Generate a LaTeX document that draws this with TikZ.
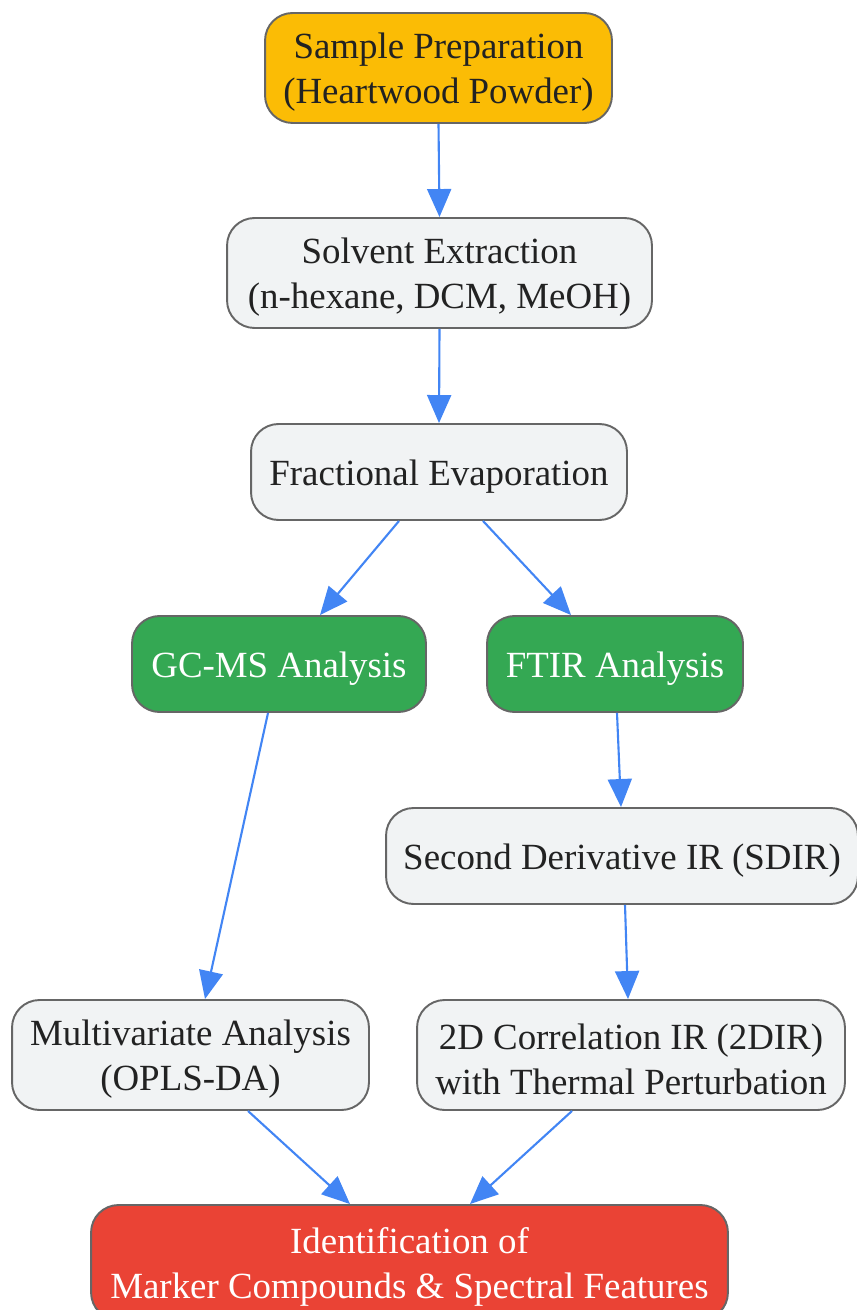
\documentclass[tikz,border=0pt]{standalone}
\usepackage{fontspec}
\setmainfont{Liberation Serif}
\usetikzlibrary{arrows.meta}

\definecolor{stepgray}{HTML}{F1F3F4}
\definecolor{stepyellow}{HTML}{FBBC05}
\definecolor{stepgreen}{HTML}{34A853}
\definecolor{stepred}{HTML}{EA4335}
\definecolor{linkblue}{HTML}{4285F4}
\definecolor{rimgray}{HTML}{666666}
\definecolor{inkgray}{HTML}{222222}

\begin{document}
\begin{tikzpicture}[x=0.02cm,y=-0.02cm,
	caption/.style={align=center,inner sep=0pt,yshift=-0.09cm,text=inkgray,font=\fontsize{21}{25.6}\selectfont},
	lightcaption/.style={caption,text=white},
	stepbox/.style={draw=rimgray,line width=1.1pt,rounded corners=0.55cm,fill=stepgray,inner sep=0pt},
	startbox/.style={stepbox,fill=stepyellow},
	probebox/.style={stepbox,fill=stepgreen},
	endbox/.style={stepbox,fill=stepred},
	link/.style={draw=linkblue,line width=1.2pt,-{Triangle[length=0.56cm,width=0.48cm]}}]
	\useasboundingbox (0,0) rectangle (857,1310);
	\node[startbox,minimum width=6.94cm,minimum height=2.2cm,label={[caption]center:Sample Preparation\\(Heartwood Powder)}] (prep) at (438.5,68) {};
	\node[stepbox,minimum width=8.5cm,minimum height=2.2cm,label={[caption]center:Solvent Extraction\\(n-hexane, DCM, MeOH)}] (extract) at (439.5,273) {};
	\node[stepbox,minimum width=7.52cm,minimum height=1.92cm,label={[caption]center:Fractional Evaporation}] (evap) at (439,472) {};
	\node[probebox,minimum width=5.88cm,minimum height=1.92cm,label={[lightcaption]center:GC-MS Analysis}] (gcms) at (279,664) {};
	\node[probebox,minimum width=5.12cm,minimum height=1.92cm,label={[lightcaption]center:FTIR Analysis}] (ftir) at (615,664) {};
	\node[stepbox,minimum width=9.44cm,minimum height=1.92cm,label={[caption]center:Second Derivative IR (SDIR)}] (sdir) at (622,856) {};
	\node[stepbox,minimum width=7.14cm,minimum height=2.2cm,label={[caption]center:Multivariate Analysis\\(OPLS-DA)}] (mva) at (190.5,1055) {};
	\node[stepbox,minimum width=8.56cm,minimum height=2.2cm,label={[caption]center:2D Correlation IR (2DIR)\\with Thermal Perturbation}] (twodir) at (631,1055) {};
	\node[endbox,minimum width=12.74cm,minimum height=2.3cm,label={[lightcaption]center:Identification of\\Marker Compounds \& Spectral Features}] (ident) at (409.5,1262.5) {};

	\foreach \a/\sa/\b/\sb in {prep/0/extract/0, extract/0/evap/0, evap/-0.8/gcms/0.82, evap/0.88/ftir/-0.88,
		gcms/-0.22/mva/0.29, ftir/0.04/sdir/-0.02, sdir/0.06/twodir/-0.06, mva/1.15/ident/-1.19, twodir/-1.18/ident/1.21}{
		\draw[link] ([xshift=\sa cm]\a.south) -- ([xshift=\sb cm]\b.north);
	}
\end{tikzpicture}
\end{document}
